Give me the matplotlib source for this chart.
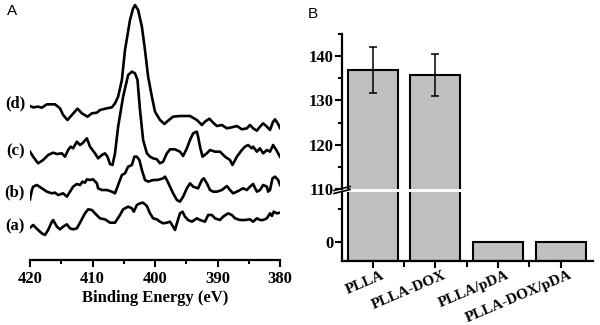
import matplotlib
matplotlib.use("Agg")
import matplotlib.pyplot as plt
from matplotlib.lines import Line2D
from matplotlib.ticker import MultipleLocator
from matplotlib.transforms import ScaledTranslation

plt.rcParams['font.family'] = ['Liberation Serif', 'DejaVu Serif']
plt.rcParams['font.weight'] = 'bold'

# --- panel A: N1s spectra (binding energy in eV, intensity in a.u., offsets included) ---
be_a = [420.0, 419.5, 418.7, 418.1, 417.6, 417.1, 416.5, 416.3, 415.7, 415.2, 414.7, 414.1,
        413.6, 413.1, 412.5, 412.0, 411.2, 410.7, 410.1, 409.6, 408.8, 408.0, 407.2, 406.4,
        405.6, 405.1, 404.3, 403.7, 403.4, 402.9, 402.4, 401.9, 401.3, 400.8, 400.3, 399.7,
        399.2, 398.7, 398.1, 397.6, 397.1, 396.8, 396.5, 396.0, 395.6, 395.2, 394.7, 394.1,
        393.3, 392.8, 392.0, 391.5, 390.9, 390.4, 389.6, 389.1, 388.3, 387.7, 387.2, 386.4,
        385.6, 384.8, 384.3, 383.7, 383.2, 382.7, 382.1, 381.6, 381.3, 381.0, 380.5, 380.0]
int_a = [117, 125, 110, 100, 95, 110, 135, 140, 120, 112, 120, 127,
         115, 112, 115, 132, 160, 172, 170, 160, 145, 142, 132, 132,
         155, 172, 180, 175, 165, 185, 190, 192, 182, 160, 145, 142,
         135, 130, 132, 135, 120, 110, 130, 160, 165, 150, 140, 135,
         145, 140, 135, 155, 155, 145, 140, 150, 160, 155, 145, 140,
         140, 142, 135, 145, 140, 140, 145, 160, 152, 165, 160, 162]

be_b = [420.0, 419.7, 419.5, 418.9, 418.1, 417.3, 416.5, 416.0, 415.5, 414.7, 414.1, 413.6,
        413.1, 412.5, 412.0, 411.6, 411.2, 410.9, 410.4, 409.9, 409.3, 409.1, 408.5, 407.7,
        406.9, 406.4, 405.9, 405.3, 404.8, 404.3, 403.7, 403.3, 402.9, 402.5, 402.1, 401.6,
        401.1, 400.3, 399.7, 399.2, 398.7, 398.4, 398.1, 397.6, 397.1, 396.5, 396.0, 395.5,
        394.9, 394.4, 393.9, 393.1, 392.5, 392.2, 391.7, 391.2, 390.7, 390.1, 389.3, 388.5,
        388.0, 387.5, 386.9, 386.4, 385.9, 385.3, 384.8, 384.3, 383.7, 383.2, 382.7, 382.1,
        381.9, 381.6, 381.2, 380.8, 380.3, 380.0]
int_b = [202, 230, 240, 245, 235, 225, 220, 222, 215, 220, 210, 225,
         240, 248, 245, 255, 252, 262, 260, 262, 250, 235, 230, 230,
         225, 220, 245, 275, 280, 300, 305, 330, 330, 320, 290, 260,
         255, 260, 260, 262, 265, 270, 260, 240, 220, 200, 195, 210,
         235, 250, 240, 235, 260, 265, 250, 230, 225, 225, 230, 242,
         230, 220, 225, 230, 235, 230, 240, 248, 225, 230, 245, 240,
         225, 230, 265, 270, 260, 245]

be_c = [420.0, 419.5, 418.7, 417.9, 417.1, 416.3, 415.7, 414.9, 414.4, 413.9, 413.5, 413.1,
        412.5, 412.0, 411.6, 410.9, 410.4, 409.6, 409.1, 408.5, 408.0, 407.6, 407.2, 406.8,
        406.4, 405.9, 405.1, 404.3, 403.7, 403.2, 402.8, 402.4, 401.9, 401.3, 400.8, 400.3,
        399.7, 399.2, 398.7, 398.1, 397.6, 396.8, 396.0, 395.5, 394.9, 394.4, 393.9, 393.3,
        393.1, 392.8, 392.4, 391.7, 391.2, 390.4, 389.6, 388.8, 388.0, 387.6, 386.9, 386.1,
        385.6, 385.1, 384.5, 384.3, 383.7, 383.2, 382.7, 382.1, 381.6, 381.1, 380.6, 380.0]
int_c = [345, 330, 310, 320, 335, 342, 338, 340, 330, 350, 360, 355,
         375, 365, 370, 385, 360, 340, 325, 335, 340, 330, 308, 305,
         340, 420, 510, 575, 585, 580, 560, 470, 380, 340, 330, 325,
         322, 310, 315, 340, 352, 352, 345, 332, 355, 380, 400, 405,
         390, 360, 330, 340, 350, 345, 345, 330, 320, 305, 330, 350,
         360, 365, 355, 360, 345, 355, 340, 350, 345, 365, 350, 330]

be_d = [420.0, 419.5, 418.7, 418.1, 417.3, 416.0, 415.2, 414.7, 414.0, 413.3, 412.4, 411.7,
        410.8, 410.1, 409.3, 408.8, 407.7, 406.9, 406.4, 405.9, 405.3, 404.8, 404.0, 403.5,
        403.2, 402.7, 402.1, 401.6, 401.1, 400.5, 400.0, 399.2, 398.5, 397.9, 397.1, 396.0,
        394.4, 393.3, 392.5, 392.0, 391.3, 390.7, 390.1, 389.3, 388.5, 387.7, 386.9, 386.1,
        385.3, 384.8, 384.3, 383.7, 383.2, 382.7, 382.1, 381.6, 381.1, 380.8, 380.3, 380.0]
int_d = [482, 478, 480, 477, 487, 487, 475, 455, 440, 455, 474, 460,
         450, 460, 462, 470, 475, 478, 490, 510, 560, 650, 740, 775,
         785, 770, 720, 650, 570, 510, 465, 440, 428, 438, 450, 452,
         452, 440, 425, 435, 444, 432, 422, 425, 415, 418, 422, 412,
         415, 425, 415, 408, 420, 430, 420, 410, 435, 442, 428, 416]

spectra = [(be_a, int_a), (be_b, int_b), (be_c, int_c), (be_d, int_d)]
trace_labels = ['(a)', '(b)', '(c)', '(d)']
label_levels = [120, 222, 345, 491]

# --- panel B: bar chart ---
groups = ['PLLA', 'PLLA-DOX', 'PLLA/pDA', 'PLLA-DOX/pDA']
values = [136.8, 135.7, 0, 0]
errors = [5.2, 4.8, 0, 0]

W, H = 600, 325
fig = plt.figure(figsize=(6, 3.25), dpi=100)


def frac(x0, y_top, w, h):
    # pixel box (top-left origin) -> figure fraction
    return [x0 / W, (H - y_top - h) / H, w / W, h / H]


# panel A
axA = fig.add_axes(frac(30, 0, 250, 260))
for be, inten in spectra:
    axA.plot(be, inten, color='black', lw=1.9, solid_joinstyle='round')
axA.set_xlim(420, 380)
axA.set_ylim(20, 800)
for s in ['left', 'right', 'top']:
    axA.spines[s].set_visible(False)
axA.spines['bottom'].set_linewidth(1.6)
axA.set_yticks([])
axA.xaxis.set_major_locator(MultipleLocator(10))
axA.xaxis.set_minor_locator(MultipleLocator(5))
axA.tick_params(axis='x', which='major', length=5, width=1.5, labelsize=12, pad=3)
axA.tick_params(axis='x', which='minor', length=3, width=1.5)
axA.set_xlabel('Binding Energy (eV)', fontsize=12, fontweight='bold', labelpad=2)
for lab, lev in zip(trace_labels, label_levels):
    axA.text(420.8, lev, lab, fontsize=12, fontweight='bold', ha='right', va='center',
             clip_on=False)
fig.text(12 / W, 1 - 11 / H, 'A', family='Liberation Sans', fontweight='normal',
         fontsize=11, ha='center', va='center')

# panel B: broken y-axis as two stacked axes
x = list(range(len(groups)))
low_min, low_max = -2.9, 7.7
axL = fig.add_axes(frac(342, 191.7, 251, 68.8))
axU = fig.add_axes(frac(342, 34, 251, 155))

axL.bar(x, [v - low_min for v in values], bottom=low_min, width=0.8, color='#c0c0c0',
        edgecolor='black', linewidth=1.5)
axU.bar(x, values, width=0.8, color='#c0c0c0', edgecolor='black', linewidth=1.5)
axU.errorbar(x[:2], values[:2], yerr=errors[:2], fmt='none', ecolor='black',
             elinewidth=1.1, capsize=3, capthick=1.1)

for ax in (axL, axU):
    ax.set_xlim(-0.49, 3.515)
    ax.spines['right'].set_visible(False)
    ax.spines['top'].set_visible(False)
    ax.spines['left'].set_linewidth(1.6)
    ax.tick_params(axis='y', which='major', length=5, width=1.5, labelsize=12, pad=1)
    ax.tick_params(axis='y', which='minor', length=3, width=1.5)

axL.set_ylim(low_min, low_max)
axL.set_yticks([0])
axL.set_yticks([5], minor=True)
axL.spines['bottom'].set_linewidth(1.6)
axL.set_xticks(x)
axL.set_xticks([0.5, 1.5, 2.5], minor=True)
axL.tick_params(axis='x', which='major', length=5, width=1.5, pad=1)
axL.tick_params(axis='x', which='minor', length=4, width=1.5)
axL.set_xticklabels(groups, rotation=23, ha='right', rotation_mode='anchor', fontsize=11)
shift = ScaledTranslation(0.08, 0.0, fig.dpi_scale_trans)
for lbl in axL.get_xticklabels():
    lbl.set_transform(lbl.get_transform() + shift)

axU.set_ylim(110, 145)
axU.set_yticks([110, 120, 130, 140])
axU.yaxis.set_minor_locator(MultipleLocator(5))
axU.spines['bottom'].set_visible(False)
axU.set_xticks([])

# break marks on the y-axis
for dy in (-1.5, 1.5):
    fig.add_artist(Line2D([334 / W, 350 / W], [(H - 192 - dy) / H, (H - 188 - dy) / H],
                          color='black', lw=1.2))

fig.text(313 / W, 1 - 14 / H, 'B', family='Liberation Sans', fontweight='normal',
         fontsize=11, ha='center', va='center')

fig.savefig('out.png', dpi=100)
